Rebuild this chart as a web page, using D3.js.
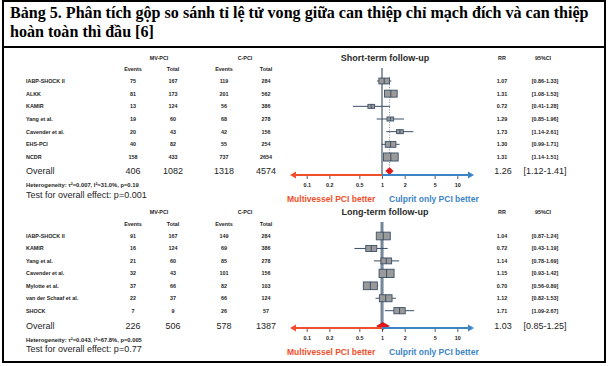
<!DOCTYPE html>
<html>
<head>
<meta charset="utf-8">
<script src="https://cdn.jsdelivr.net/npm/d3@7"></script>
<style>
  body { margin: 0; background: #fff; }
  svg { display: block; }
</style>
</head>
<body>
<svg id="chart" width="610" height="366"></svg>
<script>
// ---- data ----
const titleLines = [
  "Bảng 5. Phân tích gộp so sánh tỉ lệ tử vong giữa can thiệp chỉ mạch đích và can thiệp",
  "hoàn toàn thì đầu [6]"
];
const tickValues = [0.1, 0.2, 0.5, 1, 2, 5, 10];
const betterLabels = ["Multivessel PCI better", "Culprit only PCI better"];

// short-term follow-up
const shortStudies = ["IABP-SHOCK II", "ALKK", "KAMIR", "Yang et al.", "Cavender et al.", "EHS-PCI", "NCDR"];
const shortMvEvents = [75, 81, 13, 19, 20, 40, 158];
const shortMvTotal = [167, 173, 124, 60, 43, 82, 433];
const shortCEvents = [119, 201, 56, 68, 42, 55, 737];
const shortCTotal = [284, 562, 386, 278, 156, 254, 2654];
const shortRR = [1.07, 1.31, 0.72, 1.29, 1.73, 1.30, 1.31];
const shortLo = [0.86, 1.08, 0.41, 0.85, 1.14, 0.99, 1.14];
const shortHi = [1.33, 1.53, 1.28, 1.96, 2.61, 1.71, 1.51];
const shortWeight = [15.4, 21.7, 6.1, 6.1, 6.1, 15.4, 29.2];
const shortOverall = [406, 1082, 1318, 4574];
const shortOverallRR = [1.26, 1.12, 1.41];
const shortHet = "Heterogeneity: τ²=0.007, I²=31.0%, p=0.19";
const shortTest = "Test for overall effect: p=0.001";

// long-term follow-up
const longStudies = ["IABP-SHOCK II", "KAMIR", "Yang et al.", "Cavender et al.", "Mylotte et al.", "van der Schaaf et al.", "SHOCK"];
const longMvEvents = [91, 16, 21, 32, 37, 22, 7];
const longMvTotal = [167, 124, 60, 43, 66, 37, 9];
const longCEvents = [149, 69, 85, 101, 82, 66, 26];
const longCTotal = [284, 386, 278, 156, 103, 124, 57];
const longRR = [1.04, 0.72, 1.14, 1.15, 0.70, 1.12, 1.71];
const longLo = [0.87, 0.43, 0.78, 0.93, 0.56, 0.82, 1.09];
const longHi = [1.24, 1.19, 1.69, 1.42, 0.89, 1.53, 2.67];
const longWeight = [17.2, 10.6, 10.0, 19.7, 17.2, 14.1, 11.2];
const longOverall = [226, 506, 578, 1387];
const longOverallRR = [1.03, 0.85, 1.25];
const longHet = "Heterogeneity: τ²=0.043, I²=67.8%, p=0.005";
const longTest = "Test for overall effect: p=0.77";

// ---- drawing ----
const svg = d3.select("#chart");
const sans = "Arial, 'Liberation Sans', sans-serif";
const ink = "#1e1e1e";
const boxStroke = "#3a5068";
const red = "#ef4f2b";
const blue = "#3b84c6";

// frame
svg.append("rect")
  .attr("x", 3).attr("y", 1)
  .attr("width", 602).attr("height", 361)
  .attr("fill", "none").attr("stroke", "#000").attr("stroke-width", 2);
svg.append("line")
  .attr("x1", 3).attr("x2", 605).attr("y1", 47).attr("y2", 47)
  .attr("stroke", "#000").attr("stroke-width", 2);

// title, fitted to the width of the first line
const t1 = svg.append("text")
  .attr("x", 10).attr("y", 18)
  .attr("font-family", "'Times New Roman', 'Liberation Serif', serif")
  .attr("font-weight", "bold").attr("font-size", 14)
  .text(titleLines[0]);
const fs = 14 * 579 / t1.node().getComputedTextLength();
t1.attr("font-size", fs);
svg.append("text")
  .attr("x", 10).attr("y", 37)
  .attr("font-family", "'Times New Roman', 'Liberation Serif', serif")
  .attr("font-weight", "bold").attr("font-size", fs)
  .text(titleLines[1]);

const x = d3.scaleLog().domain([0.1, 10]).range([306.7, 457.3]);

const panels = [
  {
    title: "Short-term follow-up",
    studies: shortStudies, mvE: shortMvEvents, mvT: shortMvTotal, cE: shortCEvents, cT: shortCTotal,
    rr: shortRR, lo: shortLo, hi: shortHi, w: shortWeight,
    overall: shortOverall, overallRR: shortOverallRR, het: shortHet, test: shortTest,
    headY: 58, colY: 69, rowRange: [81, 157], overallY: 171, hetY: 185, testY: 194.5, axisY: 175,
    nullTop: 68, nullWidth: 1.2, nullColor: "#44576a", maxBox: 14.7
  },
  {
    title: "Long-term follow-up",
    studies: longStudies, mvE: longMvEvents, mvT: longMvTotal, cE: longCEvents, cT: longCTotal,
    rr: longRR, lo: longLo, hi: longHi, w: longWeight,
    overall: longOverall, overallRR: longOverallRR, het: longHet, test: longTest,
    headY: 211.5, colY: 224, rowRange: [236, 310.7], overallY: 326, hetY: 339.5, testY: 348.5, axisY: 328,
    nullTop: 222, nullWidth: 3, nullColor: "#74879a", maxBox: 15
  }
];

const cols = [133, 173, 224, 266];

function txt(g, xx, yy, s, size, anchor, opts) {
  const t = g.append("text")
    .attr("x", xx).attr("y", yy)
    .attr("font-family", sans)
    .attr("font-size", size)
    .attr("text-anchor", anchor || "start")
    .attr("dominant-baseline", "central")
    .attr("fill", (opts && opts.fill) || ink)
    .text(s);
  if (opts && opts.bold) t.attr("font-weight", "bold");
  return t;
}

panels.forEach(p => {
  const g = svg.append("g");
  const y = d3.scalePoint().domain(p.studies).range(p.rowRange);
  const size = d3.scaleSqrt().domain([0, d3.max(p.w)]).range([0, p.maxBox]);
  const boxH = i => Math.max(4, size(p.w[i]) * 0.55);
  const idx = d3.range(p.studies.length);

  // table headers
  txt(g, 159, p.headY, "MV-PCI", 5.4, "middle", { bold: true });
  txt(g, 245, p.headY, "C-PCI", 5.4, "middle", { bold: true });
  ["Events", "Total", "Events", "Total"].forEach((h, i) => txt(g, cols[i], p.colY, h, 5.4, "middle", { bold: true }));
  txt(g, 502, p.headY, "RR", 5.4, "middle", { bold: true });
  txt(g, 543, p.headY, "95%CI", 5.4, "middle", { bold: true });

  // study rows
  idx.forEach(i => {
    const yy = y(p.studies[i]);
    txt(g, 26, yy, p.studies[i], 5.4, "start", { bold: true });
    [p.mvE[i], p.mvT[i], p.cE[i], p.cT[i]].forEach((v, j) => txt(g, cols[j], yy, v, 5.4, "middle", { bold: true }));
    txt(g, 502, yy, p.rr[i].toFixed(2), 5.4, "middle", { bold: true });
    txt(g, 545, yy, "[" + p.lo[i].toFixed(2) + "-" + p.hi[i].toFixed(2) + "]", 5.4, "middle", { bold: true });
  });

  // overall row
  txt(g, 26, p.overallY, "Overall", 9, "start");
  p.overall.forEach((v, j) => txt(g, cols[j], p.overallY, v, 9, "middle"));
  txt(g, 503, p.overallY, p.overallRR[0].toFixed(2), 9, "middle");
  txt(g, 545, p.overallY, "[" + p.overallRR[1].toFixed(2) + "-" + p.overallRR[2].toFixed(2) + "]", 9, "middle");
  txt(g, 26, p.hetY, p.het, 5.8, "start", { bold: true });
  txt(g, 26, p.testY, p.test, 9, "start");

  // plot title
  txt(g, 385, p.headY, p.title, 9, "middle", { bold: true, fill: "#2a2a2a" });

  // null line
  g.append("line")
    .attr("x1", x(1)).attr("x2", x(1))
    .attr("y1", p.nullTop).attr("y2", p.axisY)
    .attr("stroke", p.nullColor).attr("stroke-width", p.nullWidth);

  // dotted line at pooled estimate
  g.append("line")
    .attr("x1", x(p.overallRR[0])).attr("x2", x(p.overallRR[0]))
    .attr("y1", p.rowRange[0] - 4).attr("y2", p.overallY - 4)
    .attr("stroke", "#8a96a2").attr("stroke-width", 1)
    .attr("stroke-dasharray", "1,1.5");

  // CI lines, boxes
  const rows = g.selectAll(".row").data(idx).enter().append("g");
  rows.append("line")
    .attr("x1", i => x(p.lo[i])).attr("x2", i => x(p.hi[i]))
    .attr("y1", i => y(p.studies[i])).attr("y2", i => y(p.studies[i]))
    .attr("stroke", boxStroke).attr("stroke-width", 1);
  rows.append("rect")
    .attr("x", i => x(p.rr[i]) - size(p.w[i]) / 2)
    .attr("y", i => y(p.studies[i]) - boxH(i) / 2)
    .attr("width", i => size(p.w[i]))
    .attr("height", boxH)
    .attr("fill", "#9a9a9a").attr("stroke", boxStroke).attr("stroke-width", 0.9);
  rows.append("line")
    .attr("x1", i => x(p.rr[i])).attr("x2", i => x(p.rr[i]))
    .attr("y1", i => y(p.studies[i]) - boxH(i) / 2)
    .attr("y2", i => y(p.studies[i]) + boxH(i) / 2)
    .attr("stroke", "#2b3d50").attr("stroke-width", 0.8);

  // pooled diamond
  const dh = 3.6;
  g.append("path")
    .attr("d", d3.line()([
      [x(p.overallRR[1]), p.overallY],
      [x(p.overallRR[0]), p.overallY - dh],
      [x(p.overallRR[2]), p.overallY],
      [x(p.overallRR[0]), p.overallY + dh]
    ]) + "Z")
    .attr("fill", "#e5141b").attr("stroke", "#b40d12").attr("stroke-width", 0.6);

  // axis: red half left, blue half right, with arrow heads
  const ay = p.axisY;
  g.append("line").attr("x1", x(1)).attr("x2", 293).attr("y1", ay).attr("y2", ay)
    .attr("stroke", red).attr("stroke-width", 2);
  g.append("line").attr("x1", x(1)).attr("x2", 470).attr("y1", ay).attr("y2", ay)
    .attr("stroke", blue).attr("stroke-width", 2);
  g.append("path").attr("d", `M290,${ay} L296,${ay - 3.5} L296,${ay + 3.5} Z`).attr("fill", red);
  g.append("path").attr("d", `M474,${ay} L468,${ay - 3.5} L468,${ay + 3.5} Z`).attr("fill", blue);

  const axis = g.append("g")
    .attr("transform", `translate(0,${ay + 1})`)
    .call(d3.axisBottom(x).tickValues(tickValues).tickFormat(d => d).tickSize(3).tickPadding(4));
  axis.select(".domain").remove();
  axis.selectAll(".tick line").attr("stroke", "#333").attr("stroke-width", 0.8);
  axis.selectAll(".tick text")
    .attr("font-family", sans).attr("font-size", 5.4).attr("font-weight", "bold").attr("fill", ink);

  txt(g, 287, ay + 23.5, betterLabels[0], 8.5, "start", { fill: red, bold: true });
  txt(g, 389, ay + 23.5, betterLabels[1], 8.5, "start", { fill: blue, bold: true });
});
</script>
</body>
</html>
